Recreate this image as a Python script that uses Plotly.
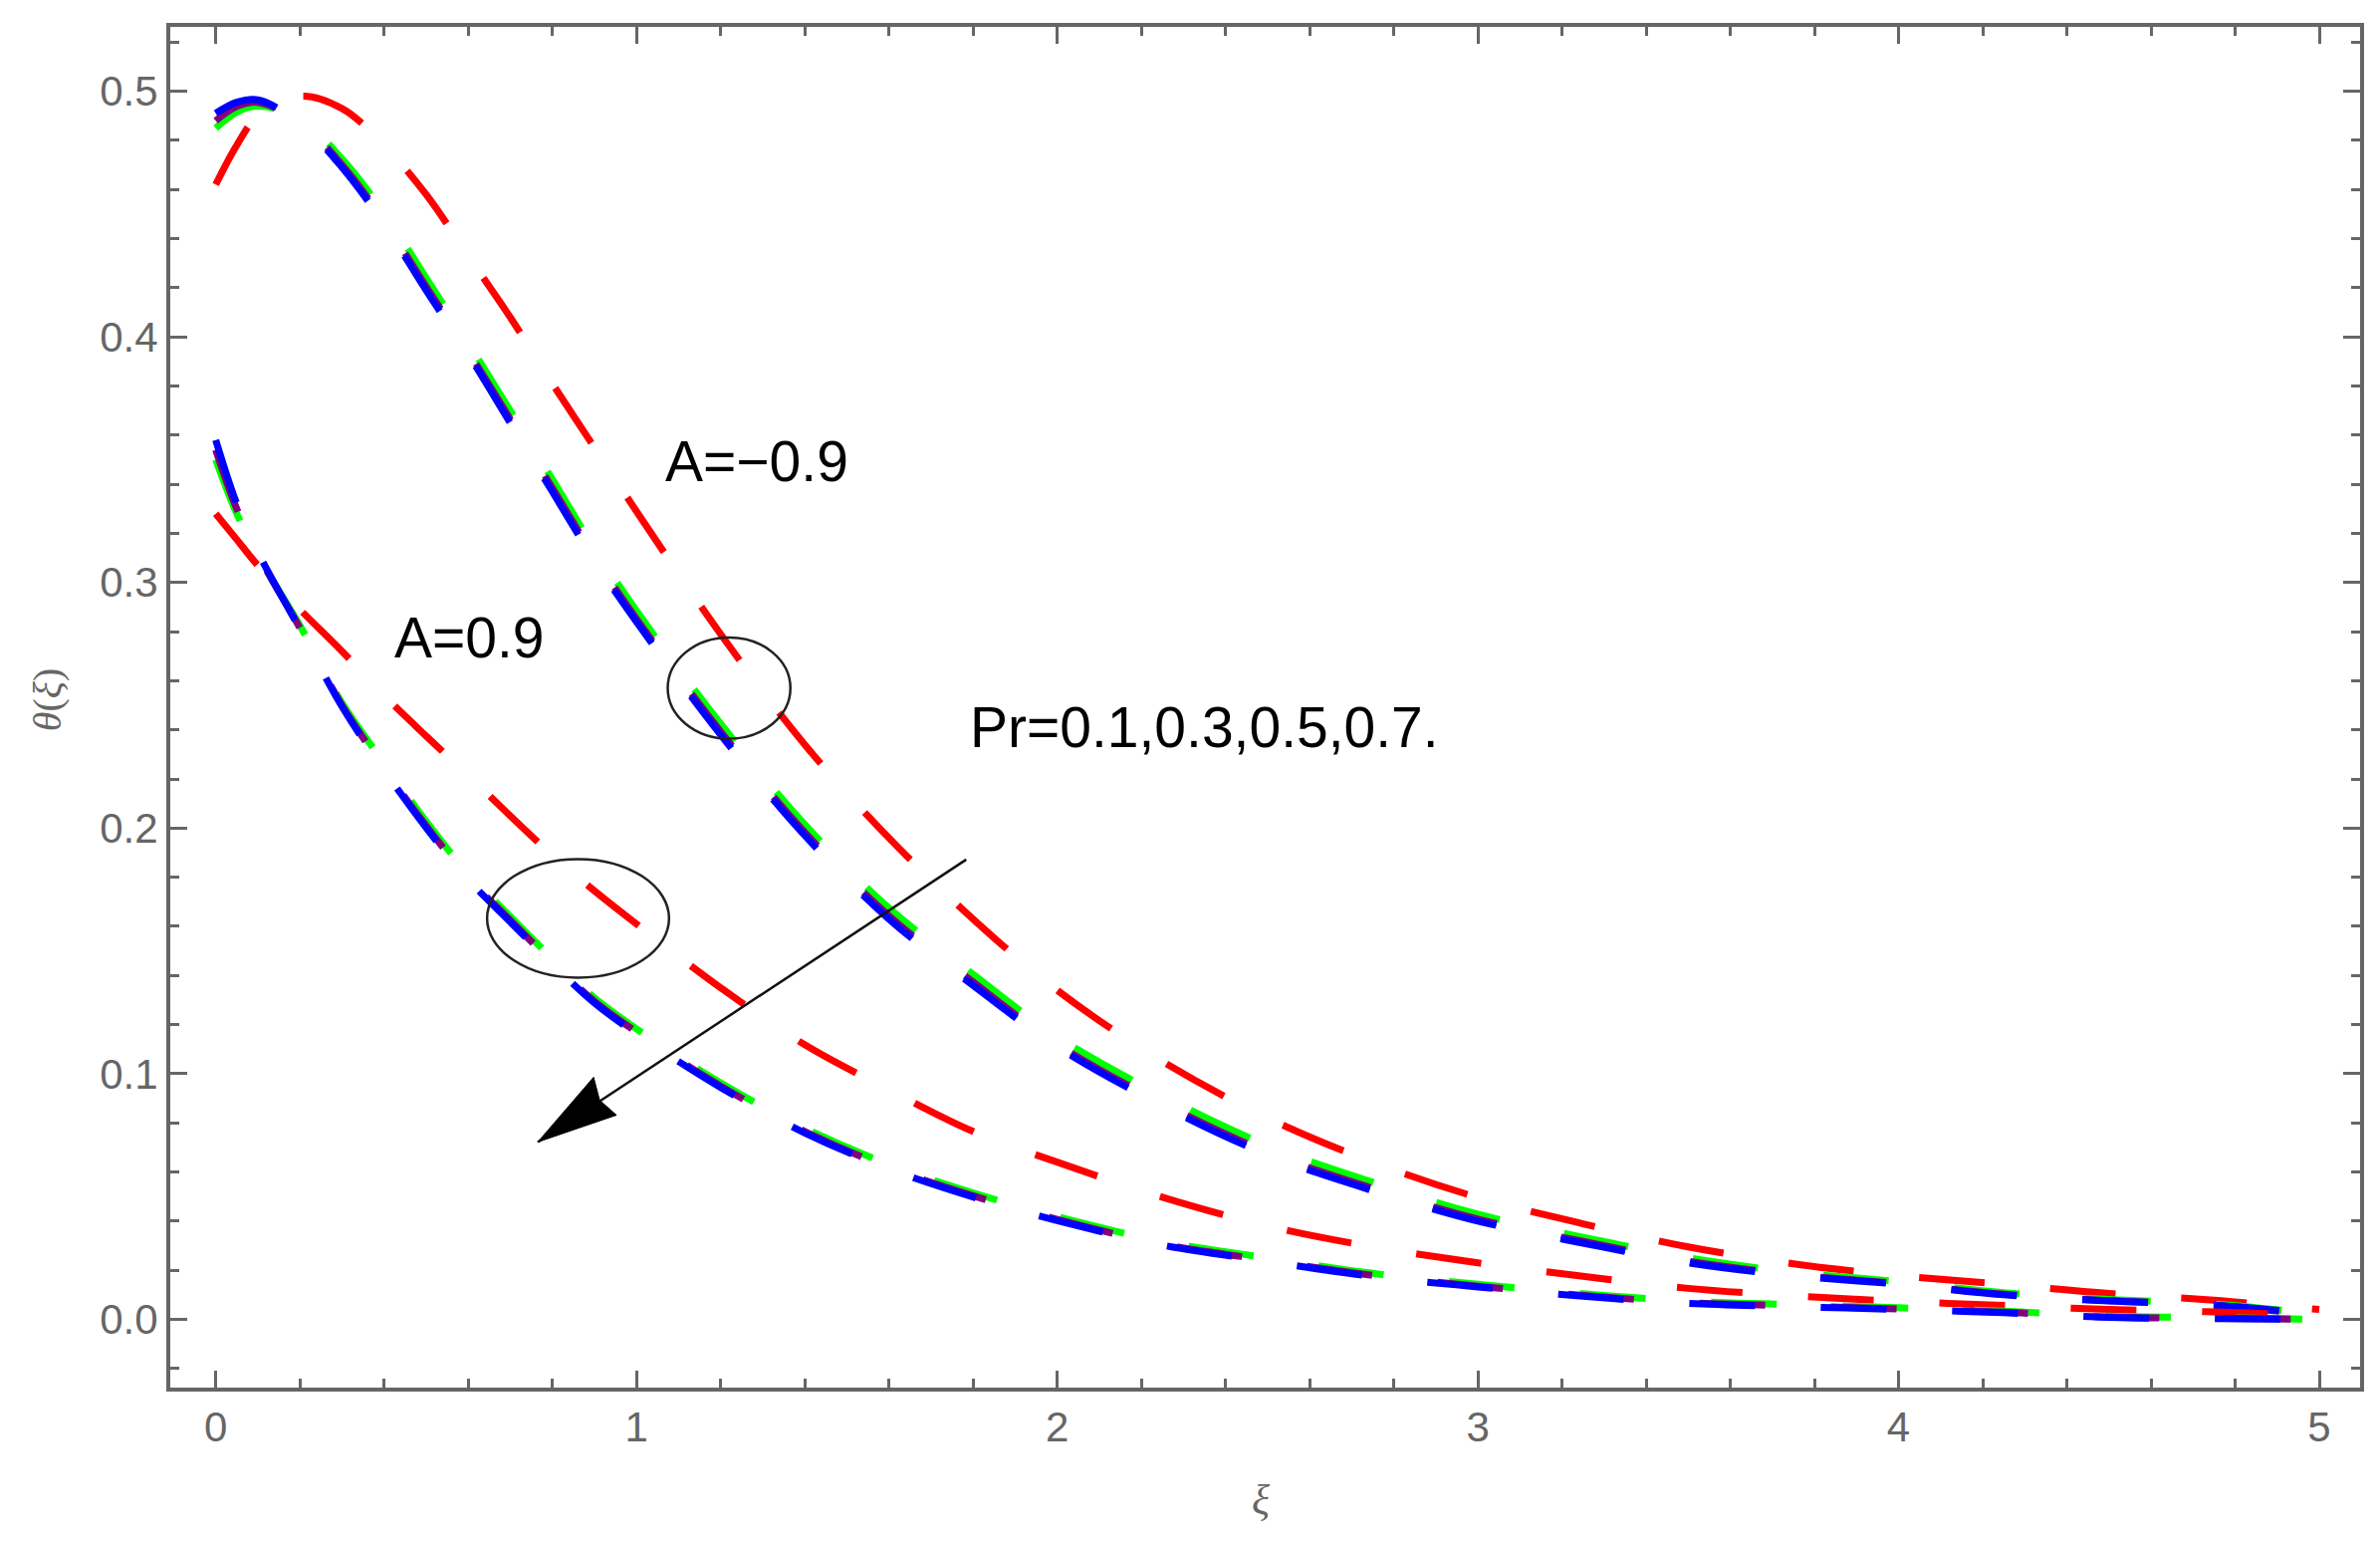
import plotly.graph_objects as go

# ---------------- data ----------------
xi = [0, 0.05, 0.1, 0.2, 0.3, 0.4, 0.5, 0.6, 0.7, 0.8, 0.9, 1.0, 1.2, 1.4, 1.6, 1.8,
      2.0, 2.25, 2.5, 2.75, 3.0, 3.25, 3.5, 3.75, 4.0, 4.25, 4.5, 4.75, 5.0]

# A = -0.9
theta_Am_Pr01 = [0.462, 0.478, 0.490, 0.498, 0.493, 0.478, 0.458, 0.433, 0.408, 0.381, 0.355, 0.329,
                 0.279, 0.234, 0.196, 0.163, 0.134, 0.105, 0.082, 0.064, 0.0496, 0.0389, 0.0295,
                 0.0226, 0.0178, 0.0142, 0.0105, 0.0078, 0.004]
theta_Am_Pr03 = [0.485, 0.4915, 0.494, 0.489, 0.4725, 0.4505, 0.424, 0.3975, 0.370, 0.342, 0.314, 0.2885,
                 0.2425, 0.2015, 0.1675, 0.1405, 0.115, 0.091, 0.0708, 0.0558, 0.0428, 0.0334, 0.0250,
                 0.0192, 0.0153, 0.0108, 0.0081, 0.0062, 0.002]
theta_Am_Pr05 = [0.488, 0.4938, 0.4955, 0.4875, 0.4700, 0.4472, 0.4205, 0.3942, 0.3665, 0.3385, 0.3105, 0.2852,
                 0.2393, 0.1983, 0.1643, 0.1373, 0.1120, 0.0880, 0.0680, 0.0533, 0.0408, 0.0317, 0.0236,
                 0.0182, 0.0145, 0.0102, 0.0076, 0.0058, 0.0015]
theta_Am_Pr07 = [0.491, 0.4955, 0.4965, 0.487, 0.469, 0.446, 0.419, 0.393, 0.365, 0.337, 0.309, 0.284,
                 0.238, 0.197, 0.163, 0.136, 0.111, 0.087, 0.067, 0.0524, 0.040, 0.031, 0.023,
                 0.0178, 0.0143, 0.0100, 0.0075, 0.0058, 0.002]

# A = 0.9
theta_Ap_Pr01 = [0.328, 0.3175, 0.307, 0.289, 0.272, 0.254, 0.2375, 0.2215, 0.205, 0.189, 0.1745, 0.161,
                 0.135, 0.1118, 0.0935, 0.0765, 0.064, 0.0497, 0.038, 0.0295, 0.023, 0.0175, 0.0126,
                 0.0096, 0.0073, 0.0057, 0.004, 0.003, 0.0015]
theta_Ap_Pr03 = [0.350, 0.328, 0.311, 0.2825, 0.2510, 0.2265, 0.2028, 0.1815, 0.1640, 0.1469, 0.1309, 0.1183,
                 0.0963, 0.0778, 0.0631, 0.0515, 0.0418, 0.0317, 0.0250, 0.0187, 0.0143, 0.0104, 0.0074,
                 0.0060, 0.0047, 0.0033, 0.0013, 0.0007, 0.0]
theta_Ap_Pr05 = [0.354, 0.330, 0.3115, 0.2815, 0.2500, 0.2245, 0.2010, 0.1798, 0.1625, 0.1454, 0.1295, 0.1170,
                 0.0950, 0.0765, 0.0618, 0.0503, 0.0407, 0.0306, 0.0240, 0.0179, 0.0135, 0.0097, 0.0068,
                 0.0055, 0.0042, 0.0029, 0.0009, 0.0004, 0.0]
theta_Ap_Pr07 = [0.358, 0.332, 0.3125, 0.281, 0.2495, 0.2237, 0.2002, 0.1791, 0.1618, 0.1447, 0.1288, 0.1163,
                 0.0944, 0.0759, 0.0613, 0.0498, 0.0402, 0.0302, 0.0236, 0.0175, 0.0132, 0.0094, 0.0065,
                 0.0052, 0.0040, 0.0027, 0.0008, 0.0003, 0.0]

series_names = ["Pr=0.1", "Pr=0.3", "Pr=0.5", "Pr=0.7"]
series_colors = ["#FF0000", "#00FF00", "#800080", "#0000FF"]

x_tickvals = [0, 1, 2, 3, 4, 5]
x_ticktext = ["0", "1", "2", "3", "4", "5"]
y_tickvals = [0.0, 0.1, 0.2, 0.3, 0.4, 0.5]
y_ticktext = ["0.0", "0.1", "0.2", "0.3", "0.4", "0.5"]

# ---------------- figure ----------------
W, H = 2374, 1531   # page body has an 8px margin
fig = go.Figure()

groups = [("A=-0.9", [theta_Am_Pr01, theta_Am_Pr03, theta_Am_Pr05, theta_Am_Pr07]),
          ("A=0.9", [theta_Ap_Pr01, theta_Ap_Pr03, theta_Ap_Pr05, theta_Ap_Pr07])]

for gname, ys in groups:
    for name, col, y in zip(series_names, series_colors, ys):
        fig.add_trace(go.Scatter(
            x=xi, y=y, mode="lines", name=f"{gname}, {name}",
            line=dict(color=col, width=7, dash="66px,66px", shape="spline", smoothing=1.0),
            showlegend=False, hoverinfo="skip"))

tick_font = dict(family="Liberation Sans, Arial, sans-serif", size=42, color="#666666")
axis_common = dict(
    showline=True, linewidth=4, linecolor="#666666", mirror="allticks",
    ticks="inside", ticklen=17, tickwidth=3, tickcolor="#666666",
    showgrid=False, zeroline=False, tickfont=tick_font,
)

fig.update_xaxes(
    range=[-0.108, 5.097], tickvals=x_tickvals, ticktext=x_ticktext,
    minor=dict(dtick=0.2, tick0=0, ticks="inside", ticklen=9, tickwidth=3, tickcolor="#666666", showgrid=False),
    ticklabelstandoff=0, **axis_common)
fig.update_yaxes(
    range=[-0.0278, 0.5262], tickvals=y_tickvals, ticktext=y_ticktext,
    minor=dict(dtick=0.02, tick0=0, ticks="inside", ticklen=9, tickwidth=3, tickcolor="#666666", showgrid=False),
    ticklabelstandoff=0, **axis_common)

# ---------------- annotations ----------------
txt_font = dict(family="Liberation Sans, Arial, sans-serif", size=57, color="#000000")
fig.add_annotation(x=1.287, y=0.3492, xref="x", yref="y", text="A=\u22120.9",
                   showarrow=False, font=txt_font, xanchor="center", yanchor="middle")
fig.add_annotation(x=0.6026, y=0.2777, xref="x", yref="y", text="A=0.9",
                   showarrow=False, font=txt_font, xanchor="center", yanchor="middle")
fig.add_annotation(x=2.35, y=0.241, xref="x", yref="y", text="Pr=0.1,0.3,0.5,0.7.",
                   showarrow=False, font=txt_font, xanchor="center", yanchor="middle")

# axis titles (plot area spans x 171..2374, y 27..1393 on the page)
fig.add_annotation(x=(1268 - 171) / (2374 - 171), y=-(1506 - 1393) / (1393 - 27), xref="paper", yref="paper",
                   text="<i>\u03be</i>", showarrow=False, xanchor="center", yanchor="middle",
                   font=dict(family="Liberation Serif, Times New Roman, serif", size=42, color="#666666"))
fig.add_annotation(x=-(171 - 48) / (2374 - 171), y=(1393 - 703) / (1393 - 27), xref="paper", yref="paper",
                   text="<i>\u03b8</i>(<i>\u03be</i>)", showarrow=False, xanchor="center", yanchor="middle",
                   textangle=-90,
                   font=dict(family="Liberation Serif, Times New Roman, serif", size=40, color="#666666"))

# ellipses
fig.add_shape(type="circle", xref="x", yref="y", x0=1.0744, x1=1.366, y0=0.2364, y1=0.2776,
              line=dict(color="#222222", width=2.5))
fig.add_shape(type="circle", xref="x", yref="y", x0=0.645, x1=1.0775, y0=0.1391, y1=0.1874,
              line=dict(color="#222222", width=2.5))

# arrow: shaft + filled head
tail = (1.784, 0.1872)
tip = (0.7656, 0.0722)
fig.add_shape(type="line", xref="x", yref="y", x0=tail[0], y0=tail[1], x1=tip[0], y1=tip[1],
              line=dict(color="#111111", width=2.5))
fig.add_shape(type="path", xref="x", yref="y", xsizemode="pixel", ysizemode="pixel",
              xanchor=tip[0], yanchor=tip[1],
              path="M0,0 L56,65 L62,42 L79,27 Z",
              fillcolor="#000000", line=dict(color="#000000", width=1))

fig.update_layout(
    width=W, height=H, autosize=False,
    margin=dict(l=163, r=8, t=19, b=146, pad=0),
    paper_bgcolor="white", plot_bgcolor="white",
)

fig.write_html("out.html")
